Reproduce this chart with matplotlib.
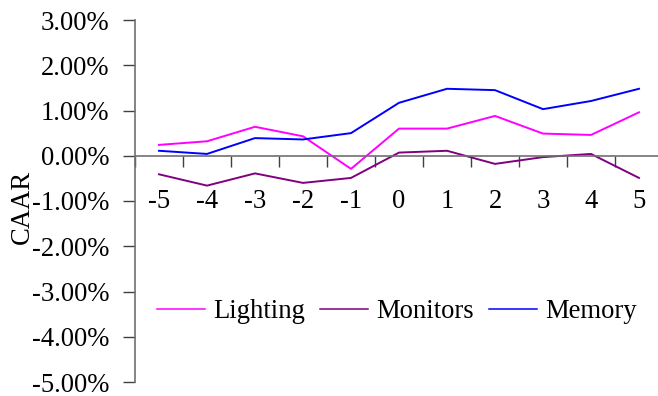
import matplotlib
matplotlib.use("Agg")
import matplotlib.pyplot as plt
from matplotlib.ticker import FixedLocator, FuncFormatter

# Event-window days and cumulative average abnormal returns (%)
days = ["-5", "-4", "-3", "-2", "-1", "0", "1", "2", "3", "4", "5"]
lighting = [0.24, 0.32, 0.64, 0.43, -0.29, 0.60, 0.60, 0.88, 0.49, 0.46, 0.96]
monitors = [-0.41, -0.66, -0.39, -0.60, -0.49, 0.07, 0.11, -0.18, -0.03, 0.04, -0.49]
memory = [0.11, 0.04, 0.39, 0.36, 0.50, 1.17, 1.48, 1.45, 1.03, 1.21, 1.48]
y_ticks = [3, 2, 1, 0, -1, -2, -3, -4, -5]

series = [("Lighting", lighting, "#FF00FF"),
          ("Monitors", monitors, "#800080"),
          ("Memory", memory, "#0000FF")]

plt.rcParams["font.family"] = ["Liberation Serif", "DejaVu Serif"]
fs = 19.2

W, H = 658, 396
fig = plt.figure(figsize=(W / 100, H / 100), dpi=100)
left, right, top, bottom = 135, 663, 20, 382
ax = fig.add_axes([left / W, 1 - bottom / H, (right - left) / W, (bottom - top) / H])

x = list(range(len(days)))
for name, vals, col in series:
    ax.plot(x, vals, color=col, lw=1.4, label=name)

ax.set_xlim(-0.5, len(days) - 0.5)
ax.set_ylim(-5, 3)

# Category axis crosses at zero
for s in ("top", "right"):
    ax.spines[s].set_visible(False)
ax.spines["bottom"].set_position(("data", 0))
ax.spines["bottom"].set_color("#707070")
ax.spines["left"].set_color("#707070")
ax.spines["bottom"].set_linewidth(1.2)
ax.spines["left"].set_linewidth(1.2)

ax.yaxis.set_major_locator(FixedLocator(y_ticks))
ax.yaxis.set_major_formatter(FuncFormatter(lambda v, p: f"{v:.2f}%"))
ax.tick_params(axis="y", direction="out", length=9, width=1.0, color="#404040",
               labelsize=fs, pad=9.5)

# Tick marks between categories, labels at category centres
ax.xaxis.set_major_locator(FixedLocator([i - 0.5 for i in range(len(days) + 1)]))
ax.xaxis.set_major_formatter(FuncFormatter(lambda v, p: ""))
ax.xaxis.set_minor_locator(FixedLocator(x))
ax.xaxis.set_minor_formatter(FuncFormatter(lambda v, p: days[int(round(v))]))
ax.tick_params(axis="x", which="major", direction="out", length=8, width=1.0,
               color="#404040")
ax.tick_params(axis="x", which="minor", length=0, labelsize=fs, pad=24)

ax.set_ylabel("CAAR", fontsize=fs)
ax.yaxis.set_label_coords(-0.19, 0.485)

ax.legend(loc="center", bbox_to_anchor=((397 - left) / (right - left), (bottom - 312) / (bottom - top)),
          ncol=3, frameon=False, fontsize=fs, handlelength=1.8, handletextpad=0.3,
          columnspacing=0.57, borderaxespad=0)
for line in ax.get_legend().get_lines():
    line.set_linewidth(1.1)

fig.savefig("out.png", dpi=100)
